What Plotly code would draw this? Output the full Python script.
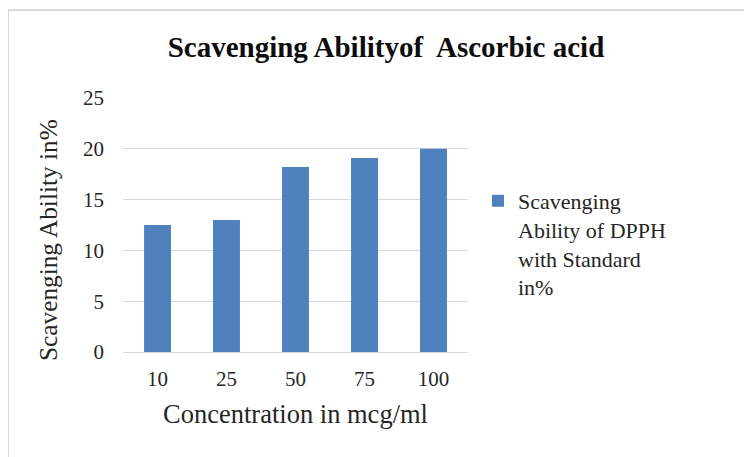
import plotly.graph_objects as go

categories = ["10", "25", "50", "75", "100"]
values = [12.5, 13.0, 18.2, 19.1, 20.0]
series_name = "Scavenging<br>Ability of DPPH<br>with Standard<br>in%"
title_text = "Scavenging Abilityof  Ascorbic acid"
x_title = "Concentration in mcg/ml"
y_title = "Scavenging Ability in%"
y_ticks = [0, 5, 10, 15, 20, 25]

OFF = 8  # page body margin
W, H = 752 - OFF, 457 - OFF
# plot area in reference page pixels: x 123..468, y 98..352
L, R, T, B = 123 - OFF, 752 - 468, 98 - OFF, 457 - 352
pw, ph = W - L - R, H - T - B

def px_x(x):  # reference page px -> paper
    return (x - OFF - L) / pw

def px_y(y):
    return (H - B - (y - OFF)) / ph

FONT = "Liberation Serif"
TXT = "#262626"

fig = go.Figure()
fig.add_trace(go.Bar(
    x=categories, y=values, name=series_name,
    marker=dict(color="#4F81BD", line=dict(width=0)),
    showlegend=True,
))

fig.update_layout(
    width=W, height=H,
    margin=dict(l=L, r=R, t=T, b=B, autoexpand=False),
    paper_bgcolor="white", plot_bgcolor="white",
    bargap=0.61,
    font=dict(family=FONT, color=TXT),
    title=dict(text="<b>" + title_text + "</b>", x=px_x(386), xref="paper", xanchor="center",
               y=1 - (47 - OFF) / H, yanchor="middle", yref="container",
               font=dict(size=29, family=FONT, color="#0d0d0d")),
    xaxis=dict(type="category", showgrid=False, showline=False, ticks="",
               tickfont=dict(size=21, family=FONT, color=TXT), ticklabelstandoff=12,
               title=dict(text=x_title, font=dict(size=26.5, family=FONT, color=TXT), standoff=14)),
    yaxis=dict(range=[0, 25], tickvals=y_ticks, showgrid=True, gridcolor="#d9d9d9", gridwidth=1,
               zeroline=True, zerolinecolor="#d9d9d9", zerolinewidth=1, showline=False, ticks="",
               tickfont=dict(size=21, family=FONT, color=TXT), ticklabelstandoff=18),
    legend=dict(x=px_x(478), y=px_y(180), xanchor="left", yanchor="top", valign="top",
                font=dict(size=22, family=FONT, color=TXT), bgcolor="rgba(0,0,0,0)"),
    annotations=[dict(text=y_title, textangle=-90, x=px_x(48), y=px_y(240), xref="paper", yref="paper",
                      xanchor="center", yanchor="middle", showarrow=False,
                      font=dict(size=25.3, family=FONT, color=TXT))],
    shapes=[
        dict(type="line", xref="paper", yref="paper", x0=px_x(8), x1=px_x(8), y0=px_y(10), y1=px_y(470),
             line=dict(color="#d9d9d9", width=2)),
        dict(type="line", xref="paper", yref="paper", x0=px_x(8), x1=px_x(770), y0=px_y(10), y1=px_y(10),
             line=dict(color="#d9d9d9", width=2)),
    ],
)

fig.write_html("out.html")
